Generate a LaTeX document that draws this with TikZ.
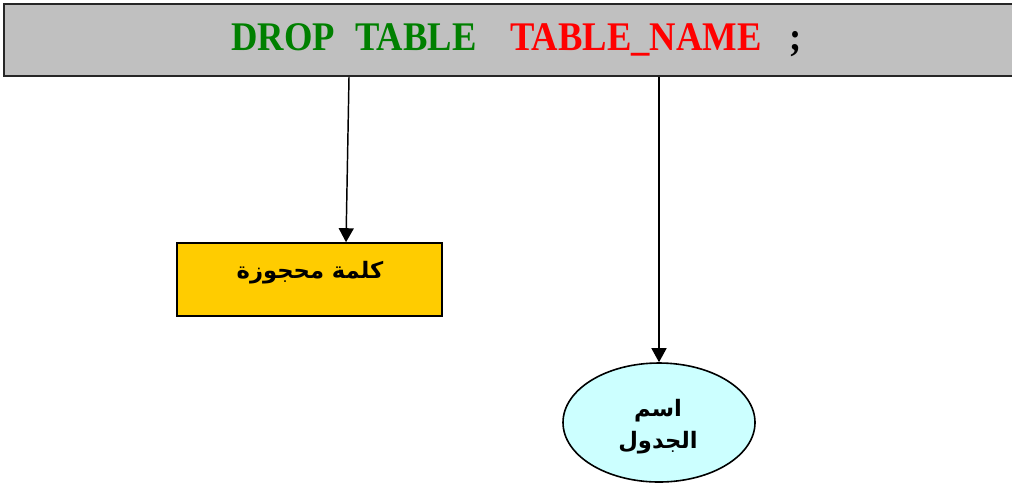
\documentclass[tikz,border=0pt]{standalone}
\usepackage{fontspec}
\setmainfont{Liberation Serif}
\newfontfamily\arabicfont[Script=Arabic]{DejaVu Sans}
\TeXXeTstate=1
\usetikzlibrary{arrows.meta,shapes.geometric}
\definecolor{bargray}{RGB}{192,192,192}
\definecolor{kwgreen}{RGB}{0,128,0}
\definecolor{kwred}{RGB}{255,0,0}
\definecolor{kwyellow}{RGB}{255,204,0}
\definecolor{namecyan}{RGB}{204,255,255}
\newcommand{\sqlword}[1]{\scalebox{0.9}[1]{#1}}
\tikzset{
  cmdbar/.style={draw=black!85, line width=1.5pt, fill=bargray, rectangle,
    minimum width=762pt, minimum height=54pt, inner sep=0pt},
  sqltext/.style={anchor=base west, inner sep=0pt,
    font=\bfseries\fontsize{30.5}{33}\selectfont},
  kwbox/.style={draw=black, line width=1.2pt, fill=kwyellow, rectangle,
    minimum width=198.75pt, minimum height=54.75pt, inner sep=0pt},
  namebox/.style={draw=black, line width=1.2pt, fill=namecyan, ellipse,
    minimum width=144pt, minimum height=89.25pt, inner sep=0pt},
  arlabel/.style={font=\arabicfont\bfseries\fontsize{17}{24}\selectfont, align=center},
  arr/.style={draw=black, line width=1.1pt, -{Triangle[length=10.5pt,width=11.25pt]}}
}
\begin{document}
\begin{tikzpicture}[x=0.75pt,y=-0.75pt]
\useasboundingbox (0,0) rectangle (1012,483);
% command bar, running off the right edge
\node[cmdbar] (cmd) at (512,40) {};
\node[sqltext, text=kwgreen] (w1) at (231,50) {\sqlword{DROP}};
\node[sqltext, text=kwgreen] (w2) at (355,50) {\sqlword{TABLE}};
\node[sqltext, text=kwred] (w3) at (510,50) {\sqlword{TABLE\_NAME}};
\node[sqltext, text=black] (w4) at (789,50) {\sqlword{;}};
% reserved word box
\node[kwbox] (kw) at (309.5,279.5) {};
\node[arlabel] (kwtext) at (310,273) {\beginR كلمة محجوزة\endR};
% table name ellipse
\node[namebox] (tn) at (659,422.5) {};
\node[arlabel] (tntext) at (658,427) {\beginR اسم\endR\\\beginR الجدول\endR};
% connectors
\draw[arr] (cmd.south -| 349,0) -- (kw.north -| 346,0);
\draw[arr] (cmd.south -| tn.north) -- (tn.north);
\end{tikzpicture}
\end{document}
